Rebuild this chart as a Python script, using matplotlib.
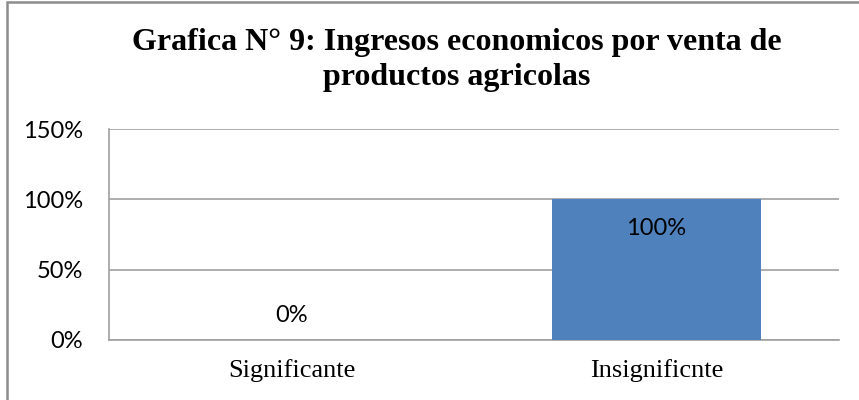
import matplotlib
matplotlib.use("Agg")
import matplotlib.pyplot as plt
from matplotlib.patches import Rectangle
from matplotlib.ticker import FuncFormatter

categories = ["Significante", "Insignificnte"]
values = [0, 100]
y_ticks = [0, 50, 100, 150]
title = "Grafica N° 9: Ingresos economicos por venta de\nproductos agricolas"

W, H = 859, 400
fig = plt.figure(figsize=(W / 100, H / 100), dpi=100)
fig.patch.set_facecolor("white")

# outer chart border (only left and top edges visible in crop)
fig.add_artist(Rectangle((7 / W, -0.05), 1.2, (1 - 1.5 / H) + 0.05, transform=fig.transFigure,
                         fill=False, edgecolor="#8c8c8c", linewidth=1.8))

ax = fig.add_axes([109 / W, 60 / H, (839 - 109) / W, (340 - 129) / H])
x = range(len(categories))
ax.bar(x, values, width=0.573, color="#4F81BD", zorder=3)
ax.set_xlim(-0.5, len(categories) - 0.5)
ax.set_ylim(0, 150)
ax.set_yticks(y_ticks)
ax.yaxis.set_major_formatter(FuncFormatter(lambda v, p: f"{v:.0f}%"))
ax.grid(axis="y", color="#a0a0a0", linewidth=1.2, zorder=0)
for s in ["top", "right"]:
    ax.spines[s].set_visible(False)
ax.spines["left"].set_color("#a0a0a0")
ax.spines["bottom"].set_color("#a0a0a0")
ax.spines["left"].set_linewidth(1.2)
ax.spines["bottom"].set_linewidth(1.2)
ax.tick_params(axis="both", length=0)
ax.tick_params(axis="y", pad=18.7)
ax.tick_params(axis="x", pad=14)
ax.set_xticks(list(x))
ax.set_xticklabels(categories, fontfamily="Liberation Serif", fontsize=19)
for lbl in ax.get_yticklabels():
    lbl.set_fontfamily("Lato")
    lbl.set_fontsize(17)

for i, v in zip(x, values):
    if v >= 20:
        ax.annotate(f"{v}%", (i, v), xytext=(0, -29), textcoords="offset pixels",
                    ha="center", va="center", fontfamily="Lato", fontsize=17, zorder=4)
    else:
        ax.annotate(f"{v}%", (i, v), xytext=(0, 25), textcoords="offset pixels",
                    ha="center", va="center", fontfamily="Lato", fontsize=17, zorder=4)

fig.text(457 / W, 1 - 60 / H, title, ha="center", va="center", fontfamily="Liberation Serif",
         fontweight="bold", fontsize=23, linespacing=1.24)

fig.savefig("out.png", dpi=100)
